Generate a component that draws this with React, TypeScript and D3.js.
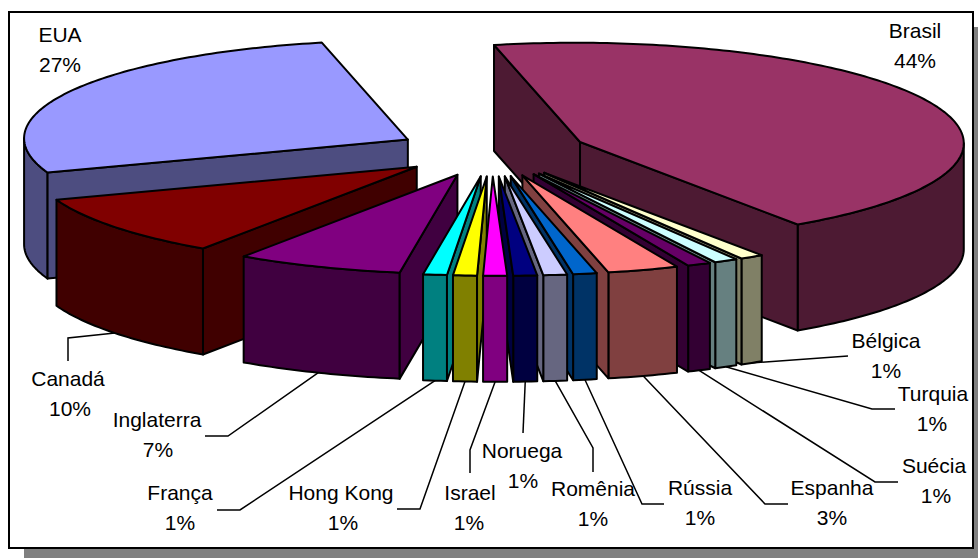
import React from "react";
import * as d3 from "d3";

// ---- data ----
const countries = [
  "EUA", "Brasil", "Bélgica", "Turquia", "Suécia", "Espanha", "Rússia",
  "Romênia", "Noruega", "Israel", "Hong Kong", "França", "Inglaterra", "Canadá",
];
const shares = [27, 44, 1, 1, 1, 3, 1, 1, 1, 1, 1, 1, 7, 10];
const topColors = [
  "#9999FF", "#993366", "#FFFFCC", "#CCFFFF", "#660066", "#FF8080", "#0066CC",
  "#CCCCFF", "#000080", "#FF00FF", "#FFFF00", "#00FFFF", "#800080", "#800000",
];

// ---- label layout (text centre of the name line, leader elbows) ----
const labelLayout: Record<string, { x: number; y: number; px?: number; leader: [number, number][] }> = {
  "EUA": { x: 60, y: 35, leader: [] },
  "Brasil": { x: 915, y: 31, leader: [] },
  "Canadá": { x: 68, y: 379, px: 70, leader: [[68, 361], [68, 338]] },
  "Inglaterra": { x: 157, y: 420, px: 158, leader: [[205, 436], [228, 436]] },
  "França": { x: 180, y: 493, leader: [[217, 510], [240, 510]] },
  "Hong Kong": { x: 341, y: 493, px: 343, leader: [[397, 509], [420, 509]] },
  "Israel": { x: 470, y: 493, px: 469, leader: [[470, 473], [470, 450]] },
  "Noruega": { x: 522, y: 451, px: 523, leader: [[523, 433]] },
  "Romênia": { x: 593, y: 489, leader: [[593, 472], [593, 448]] },
  "Rússia": { x: 700, y: 488, leader: [[664, 504], [642, 504]] },
  "Espanha": { x: 832, y: 488, leader: [[788, 504], [765, 504]] },
  "Suécia": { x: 934, y: 466, px: 936, leader: [[898, 482], [875, 482]] },
  "Turquia": { x: 933, y: 394, px: 932, leader: [[895, 409], [872, 409]] },
  "Bélgica": { x: 886, y: 341, leader: [[848, 356]] },
};

// ---- projection ----
const W = 978;
const H = 558;
const CX = 492.2;
const CY = 151.7;
const AX: [number, number] = [374, -21];
const AY: [number, number] = [-86, -97];
const DEPTH = 106;
const EXPLODE = 0.25;
const LINE_GAP = 30;

type P = [number, number];
const proj = (x: number, y: number, z: number): P => [
  CX + x * AX[0] + y * AY[0],
  CY + x * AX[1] + y * AY[1] + z * DEPTH,
];

// toward-viewer direction in pie plane
const TV: P = [AY[0], -AX[0]];
const tvLen = Math.hypot(TV[0], TV[1]);
const T: P = [TV[0] / tvLen, TV[1] / tvLen];
const thetaC = Math.atan2(T[0], T[1]);

const half = (c: string) => {
  const r = d3.rgb(c);
  return d3.rgb(r.r * 0.5, r.g * 0.5, r.b * 0.5).formatHex();
};

const line = d3.line<P>();
const closed = (pts: P[]) => (line(pts) || "") + "Z";

export default function App() {
  const start = (-2 * Math.PI * shares[0]) / 100;
  const arcs = d3
    .pie<number>()
    .sort(null)
    .value((d) => d)
    .startAngle(start)
    .endAngle(start + 2 * Math.PI)(shares);

  const slices = arcs.map((a, i) => {
    const a0 = a.startAngle;
    const a1 = a.endAngle;
    const mid = (a0 + a1) / 2;
    const ox = EXPLODE * Math.sin(mid);
    const oy = EXPLODE * Math.cos(mid);
    const rim = (t: number, z: number) => proj(ox + Math.sin(t), oy + Math.cos(t), z);
    const apex = (z: number) => proj(ox, oy, z);
    const arcPts = (lo: number, hi: number, z: number) => {
      const n = Math.max(2, Math.ceil((hi - lo) / (Math.PI / 180)));
      return d3.range(n + 1).map((k) => rim(lo + ((hi - lo) * k) / n, z));
    };
    const faces: string[] = [];
    for (let k = -1; k <= 1; k++) {
      const lo = Math.max(a0, thetaC - Math.PI / 2 + 2 * Math.PI * k);
      const hi = Math.min(a1, thetaC + Math.PI / 2 + 2 * Math.PI * k);
      if (hi > lo) {
        faces.push(closed([...arcPts(lo, hi, 0), ...arcPts(lo, hi, 1).reverse()]));
      }
    }
    if (-Math.cos(a0) * T[0] + Math.sin(a0) * T[1] > 0) {
      faces.push(closed([apex(0), rim(a0, 0), rim(a0, 1), apex(1)]));
    }
    if (Math.cos(a1) * T[0] - Math.sin(a1) * T[1] > 0) {
      faces.push(closed([apex(0), rim(a1, 0), rim(a1, 1), apex(1)]));
    }
    const top = closed([apex(0), ...arcPts(a0, a1, 0)]);
    const depth = ox * T[0] + oy * T[1];
    const anchor = rim(mid, 1);
    return { i, faces, top, depth, anchor };
  });

  const order = [...slices].sort((p, q) => p.depth - q.depth);

  return (
    <svg
      width={W}
      height={H}
      style={{ position: "absolute", left: 0, top: 0 }}
      fontFamily="'Liberation Sans', Arial, sans-serif"
    >
      <rect x={0} y={0} width={W} height={H} fill="#ffffff" />
      <rect x={24} y={27} width={964} height={536} fill="#808080" />
      <rect x={9} y={12} width={964} height={536} fill="#ffffff" stroke="#000" strokeWidth={2} />
      {order.map((s) => (
        <g key={s.i} stroke="#000" strokeWidth={2} strokeLinejoin="round">
          {s.faces.map((f, j) => (
            <path key={j} d={f} fill={half(topColors[s.i])} />
          ))}
          <path d={s.top} fill={topColors[s.i]} />
        </g>
      ))}
      {slices.map((s) => {
        const name = countries[s.i];
        const L = labelLayout[name];
        const pts: P[] = [...L.leader, s.anchor];
        return (
          <g key={"l" + s.i}>
            {L.leader.length > 0 && (
              <path d={line(pts) || ""} fill="none" stroke="#000" strokeWidth={1.5} />
            )}
            <text x={L.x} y={L.y} dy="0.35em" textAnchor="middle" fontSize={21} fill="#000">
              {name}
            </text>
            <text
              x={L.px ?? L.x}
              y={L.y + LINE_GAP}
              dy="0.35em"
              textAnchor="middle"
              fontSize={21}
              fill="#000"
            >
              {shares[s.i]}%
            </text>
          </g>
        );
      })}
    </svg>
  );
}
